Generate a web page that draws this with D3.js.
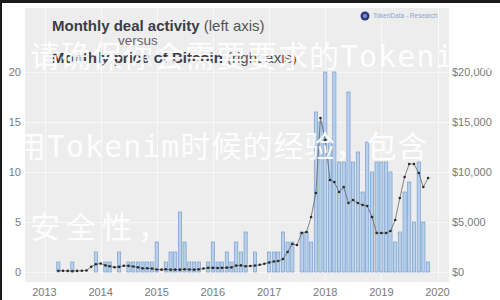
<!DOCTYPE html>
<html><head><meta charset="utf-8">
<script src="https://cdnjs.cloudflare.com/ajax/libs/d3/7.8.5/d3.min.js"></script>
<style>
html,body{margin:0;padding:0;background:#fff;}
svg{display:block;}
</style></head>
<body>
<svg id="chart" width="500" height="300"></svg>
<script>
// ---- data (monthly, starting April 2013) ----
const startMonth = "2013-04";
const deals2013 = [1,0,0,1,0,0,0,0,2];
const deals2014 = [0,1,1,0,2,0,1,1,1,1,1,1];
const deals2015 = [3,0,1,2,2,6,3,1,1,1,0,1];
const deals2016 = [3,1,1,2,1,3,2,4,0,2,0,0];
const deals2017 = [2,2,2,4,3,3,0,4,4,3,16,15];
const deals2018 = [20,13,20,11,11,18,11,12,8,13,10,11];
const deals2019 = [11,11,10,3,4,8,9,5,11,5,1];

const price2013 = [125,115,108,90,110,128,150,530,780];
const price2014 = [850,660,580,470,510,620,615,545,465,365,370,340];
const price2015 = [250,235,270,235,237,237,280,255,235,265,350,420];
const price2016 = [410,405,415,435,460,640,660,580,605,640,725,820];
const price2017 = [950,1050,1100,1300,2000,2800,2700,3900,4000,5500,7900,15400];
const price2018 = [13200,9200,9000,8000,8500,6900,7200,6900,6700,6600,5500,3900];
const price2019 = [3900,3900,4100,5200,7400,9500,10800,10800,9900,8500,9400];

const yearTicks = [2013,2014,2015,2016,2017,2018,2019,2020];
const leftTicks = [0,5,10,15,20];
const rightTicks = [0,5000,10000,15000,20000];

const titleLine1Bold = "Monthly deal activity";
const titleLine1Rest = " (left axis)";
const titleLine2 = "versus";
const titleLine3Bold = "Monthly price of Bitcoin";
const titleLine3Rest = " (right axis)";
const logoText = "TokenData - Research";
const watermark = ["请确保你会需要要求的Tokenim版", "用Tokenim时候的经验，包含", "安全性，"];

// ---- build ----
const deals = [].concat(deals2013,deals2014,deals2015,deals2016,deals2017,deals2018,deals2019);
const prices = [].concat(price2013,price2014,price2015,price2016,price2017,price2018,price2019);
const parse = d3.timeParse("%Y-%m");
const start = parse(startMonth);
const data = deals.map((d,i)=>({date:d3.timeMonth.offset(start,i), deals:d, price:prices[i]}));

const svg = d3.select("#chart");
const W=500,H=300;
const plot = {left:25,right:449,top:8,bottom:282};

const x = d3.scaleTime().domain([new Date(2013,0,1), new Date(2020,0,1)]).range([44.5,437.5]);
const yL = d3.scaleLinear().domain([0,20]).range([272,72]);
const yR = d3.scaleLinear().domain([0,20000]).range([272,72]);

// borders
svg.append("rect").attr("x",0).attr("y",0).attr("width",W).attr("height",3).attr("fill","#1a1a1a");
svg.append("rect").attr("x",0).attr("y",0).attr("width",2).attr("height",H).attr("fill","#1a1a1a");

// background
svg.append("rect").attr("x",plot.left).attr("y",plot.top)
  .attr("width",plot.right-plot.left).attr("height",plot.bottom-plot.top).attr("fill","#ededed");

// grid
const grid = svg.append("g");
grid.selectAll(".hg").data(leftTicks).join("line")
  .attr("x1",plot.left).attr("x2",plot.right)
  .attr("y1",d=>yL(d)+0.5).attr("y2",d=>yL(d)+0.5)
  .attr("stroke","#f8f8f8").attr("stroke-width",1);
grid.selectAll(".vg").data(yearTicks).join("line")
  .attr("x1",d=>Math.round(x(new Date(d,0,1)))+0.5).attr("x2",d=>Math.round(x(new Date(d,0,1)))+0.5)
  .attr("y1",plot.top).attr("y2",plot.bottom)
  .attr("stroke","#f8f8f8").attr("stroke-width",1);

// bars
const bw = 3.2;
svg.append("g").selectAll("rect").data(data.filter(d=>d.deals>0)).join("rect")
  .attr("x",d=>x(d.date)-bw/2).attr("width",bw)
  .attr("y",d=>yL(d.deals)).attr("height",d=>yL(0)-yL(d.deals))
  .attr("fill","#b8d0ec").attr("stroke","#789fcd").attr("stroke-width",0.7);

// price line
const line = d3.line().x(d=>x(d.date)).y(d=>yR(d.price));
svg.append("path").datum(data).attr("d",line)
  .attr("fill","none").attr("stroke","#666").attr("stroke-width",0.8);
svg.append("g").selectAll("circle").data(data).join("circle")
  .attr("cx",d=>x(d.date)).attr("cy",d=>yR(d.price)).attr("r",1.3).attr("fill","#2a2a2a");

// axes labels
const font = "'Liberation Sans', Arial, Helvetica, sans-serif";
svg.append("g").selectAll("text").data(leftTicks).join("text")
  .attr("x",21).attr("y",d=>yL(d)).attr("dy","0.35em").attr("text-anchor","end")
  .attr("font-family",font).attr("font-size",11).attr("fill","#7a7a7a").text(d=>d);
svg.append("g").selectAll("text").data(rightTicks).join("text")
  .attr("x",452).attr("y",d=>yR(d)).attr("dy","0.35em").attr("text-anchor","start")
  .attr("font-family",font).attr("font-size",11).attr("fill","#7a7a7a").text(d=>"$"+d3.format(",")(d));
svg.append("g").selectAll("text").data(yearTicks).join("text")
  .attr("x",d=>x(new Date(d,0,1))).attr("y",296).attr("text-anchor","middle")
  .attr("font-family",font).attr("font-size",11).attr("fill","#7a7a7a").text(d=>d);

// title
const t1 = svg.append("text").attr("x",52).attr("y",31).attr("font-family",font).attr("font-size",15).attr("fill","#3a3d48");
t1.append("tspan").attr("font-weight","bold").text(titleLine1Bold);
t1.append("tspan").attr("fill","#555").text(titleLine1Rest);
svg.append("text").attr("x",118).attr("y",45).attr("font-family",font).attr("font-size",13.5).attr("fill","#666").text(titleLine2);
const t3 = svg.append("text").attr("x",52).attr("y",63).attr("font-family",font).attr("font-size",15).attr("fill","#3a3d48");
t3.append("tspan").attr("font-weight","bold").text(titleLine3Bold);
t3.append("tspan").attr("fill","#555").text(titleLine3Rest);

// logo
svg.append("circle").attr("cx",365).attr("cy",16).attr("r",4.5).attr("fill","#2e3a82");
svg.append("circle").attr("cx",365).attr("cy",16).attr("r",2).attr("fill","#7f90d2");
svg.append("text").attr("x",373).attr("y",18.3).attr("font-family",font).attr("font-size",6.5).attr("fill","#8fa2c9").text(logoText);

// watermark
const wmFont = "'DejaVu Sans Mono', 'Noto Sans CJK SC', monospace";
const wmPos = [{x:30,y:67,ls:1},{x:16,y:157,ls:1},{x:30,y:238,ls:6}];
watermark.forEach((t,i)=>{
  svg.append("text").attr("x",wmPos[i].x).attr("y",wmPos[i].y)
    .attr("font-family",wmFont).attr("font-size",30).attr("font-weight","normal")
    .attr("letter-spacing",wmPos[i].ls).attr("fill","#ffffff").attr("fill-opacity",0.92).text(t);
});
</script>
</body></html>
